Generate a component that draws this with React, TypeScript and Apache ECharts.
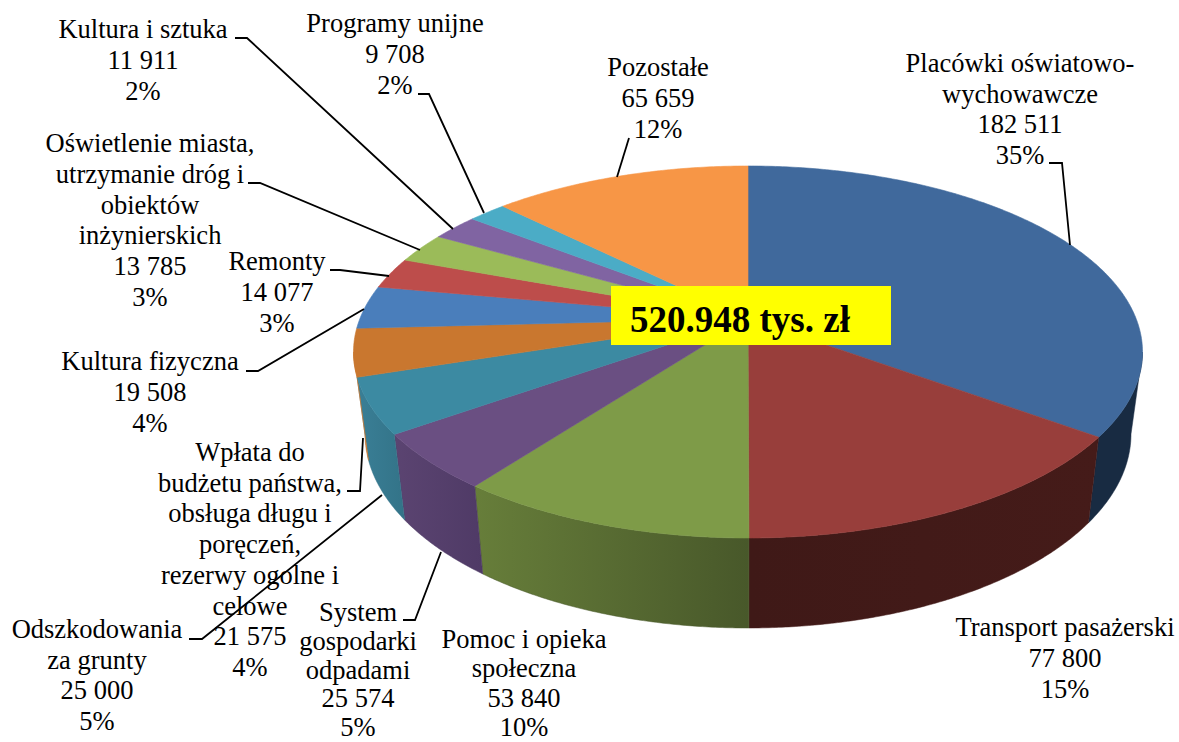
import React, { useEffect, useRef } from "react";
import * as echarts from "echarts";

const categories = [
  ["Placówki oświatowo-", "wychowawcze"],
  ["Transport pasażerski"],
  ["Pomoc i opieka", "społeczna"],
  ["System", "gospodarki", "odpadami"],
  ["Odszkodowania", "za grunty"],
  ["Wpłata do", "budżetu państwa,", "obsługa długu i", "poręczeń,", "rezerwy ogolne i", "celowe"],
  ["Kultura fizyczna"],
  ["Remonty"],
  ["Oświetlenie miasta,", "utrzymanie dróg i", "obiektów", "inżynierskich"],
  ["Kultura i sztuka"],
  ["Programy unijne"],
  ["Pozostałe"],
];
const values = [182511, 77800, 53840, 25574, 25000, 21575, 19508, 14077, 13785, 11911, 9708, 65659];
const valueLabels = ["182 511", "77 800", "53 840", "25 574", "25 000", "21 575", "19 508", "14 077", "13 785", "11 911", "9 708", "65 659"];
const percentLabels = ["35%", "15%", "10%", "5%", "5%", "4%", "4%", "3%", "3%", "2%", "2%", "12%"];
const totalLabel = "520.948 tys. zł";

const topColors = ["#40699C", "#983E3B", "#7E9B48", "#6A4F82", "#3C8AA2", "#C9772F", "#4A7EBB", "#BD4D4B", "#9BBB59", "#8064A2", "#4BACC6", "#F79646"];
const wallColors: [string, string][] = [
  ["#182B42", "#182B42"],
  ["#3F1917", "#451B19"],
  ["#677E3A", "#48582A"],
  ["#5B4471", "#4F3A66"],
  ["#3A7F96", "#337388"],
  ["#C9772F", "#C9772F"],
  ["#3A6496", "#3A6496"],
  ["#963D3B", "#963D3B"],
  ["#7B9546", "#7B9546"],
  ["#654F81", "#654F81"],
  ["#3B8A9E", "#3B8A9E"],
  ["#C47737", "#C47737"],
];

// Geometry of the pie (Excel-like perspective)
const CX = 748;
const TOP = { cy: 352, rx: 394.5, ry: 186 };
const BOTTOM = { cy: 434, rx: 383, ry: 194 };
const PERSPECTIVE = 0.18;

// Label blocks: centre x, centre y, line height
const labelPos: [number, number, number][] = [
  [1020, 109, 30.7], [1065, 658, 30.7], [524, 683, 29.3], [358, 669.5, 28.8], [97, 675, 30.7], [250, 559.5, 30.7],
  [150, 392, 30.7], [277, 292, 30.7], [150, 220, 30.7], [143, 60, 30.7], [395, 54, 30.7], [658, 98, 30.7],
];
const leaders: number[][][] = [
  [[1049, 163], [1062, 163], [1070, 245]],
  [],
  [],
  [[403, 620], [415, 620], [441, 552]],
  [[189, 639], [202, 639], [382, 495]],
  [[347, 491], [360, 491], [363, 438]],
  [[246, 371], [258, 371], [364, 309]],
  [[330, 270], [340, 270], [389, 276]],
  [[248, 183], [260, 183], [420, 250]],
  [[235, 38], [247, 38], [453, 229]],
  [[418, 94], [429, 94], [484, 213]],
  [[629, 138], [617, 177]],
];

const total = values.reduce((a, b) => a + b, 0);
const cumulative = values.reduce<number[]>((acc, v) => { acc.push(acc[acc.length - 1] + v); return acc; }, [0]);

// true angle on the pie -> parameter angle on the projected ellipse
function warp(t: number): number {
  const b = Math.cos(t);
  const c = (b + PERSPECTIVE) / (1 + PERSPECTIVE * b);
  const tau = Math.acos(Math.max(-1, Math.min(1, c)));
  const turns = Math.floor(t / (2 * Math.PI));
  const m = t - turns * 2 * Math.PI;
  return turns * 2 * Math.PI + (m <= Math.PI ? tau : 2 * Math.PI - tau);
}
const onEllipse = (e: { cy: number; rx: number; ry: number }, tau: number) => [CX + e.rx * Math.sin(tau), e.cy - e.ry * Math.cos(tau)];
const APEX = [CX, TOP.cy - TOP.ry * PERSPECTIVE];

function arcTaus(a: number, b: number): number[] {
  const out: number[] = [];
  const n = Math.max(2, Math.ceil(((b - a) * 180) / Math.PI / 0.5));
  for (let i = 0; i <= n; i++) out.push(a + ((b - a) * i) / n);
  return out;
}

function renderTop(params: any, api: any) {
  const i = params.dataIndex;
  api.value(0);
  const a = warp((cumulative[i] / total) * 2 * Math.PI);
  const b = warp((cumulative[i + 1] / total) * 2 * Math.PI);
  const points = [APEX, ...arcTaus(a, b).map((t) => onEllipse(TOP, t))];
  return { type: "polygon", shape: { points }, style: { fill: topColors[i], stroke: topColors[i], lineWidth: 0.6 } };
}

function renderWall(params: any, api: any) {
  const i = params.dataIndex;
  api.value(0);
  const a = Math.max(warp((cumulative[i] / total) * 2 * Math.PI), Math.PI / 2);
  const b = Math.min(warp((cumulative[i + 1] / total) * 2 * Math.PI), (3 * Math.PI) / 2);
  if (b <= a) return { type: "group", children: [] };
  const taus = arcTaus(a, b);
  const points = [...taus.map((t) => onEllipse(TOP, t)), ...taus.slice().reverse().map((t) => onEllipse(BOTTOM, t))];
  const fill = new echarts.graphic.LinearGradient(0, 0, 1, 0, [
    { offset: 0, color: wallColors[i][0] },
    { offset: 1, color: wallColors[i][1] },
  ]);
  return { type: "polygon", shape: { points }, style: { fill, stroke: wallColors[i][1], lineWidth: 0.5 } };
}

const FONT = '"Liberation Serif", "Times New Roman", serif';
const FONT_SIZE = 26.5;

export default function App() {
  const ref = useRef<HTMLDivElement>(null);
  useEffect(() => {
    document.body.style.margin = "0";
    document.body.style.overflow = "hidden";
    const chart = echarts.init(ref.current!, undefined, { renderer: "svg" });
    const labelEls = categories.map((cat, i) => ({
      type: "text",
      z: 50,
      x: labelPos[i][0],
      y: labelPos[i][1],
      style: {
        text: [...cat, valueLabels[i], percentLabels[i]].join("\n"),
        font: `${FONT_SIZE}px ${FONT}`,
        lineHeight: labelPos[i][2],
        fill: "#000",
        align: "center",
        verticalAlign: "middle",
      },
    }));
    const leaderEls = leaders.filter((l) => l.length).map((points) => ({
      type: "polyline",
      z: 40,
      shape: { points },
      style: { stroke: "#000", lineWidth: 1.8, fill: "none" },
    }));
    chart.setOption({
      animation: false,
      backgroundColor: "#fff",
      series: [
        { type: "custom", coordinateSystem: "none", z: 1, silent: true, renderItem: renderWall, data: values.map((v) => [v]) },
        { type: "custom", coordinateSystem: "none", z: 2, silent: true, renderItem: renderTop, data: values.map((v) => [v]) },
      ],
      graphic: [
        ...leaderEls,
        ...labelEls,
        { type: "rect", z: 60, shape: { x: 611, y: 286, width: 280, height: 59 }, style: { fill: "#FFFF00" } },
        { type: "text", z: 61, x: 630, y: 319, style: { text: totalLabel, font: `bold 37px ${FONT}`, fill: "#000", align: "left", verticalAlign: "middle" } },
      ],
    });
    return () => chart.dispose();
  }, []);
  return <div ref={ref} style={{ width: 1179, height: 742 }} />;
}
